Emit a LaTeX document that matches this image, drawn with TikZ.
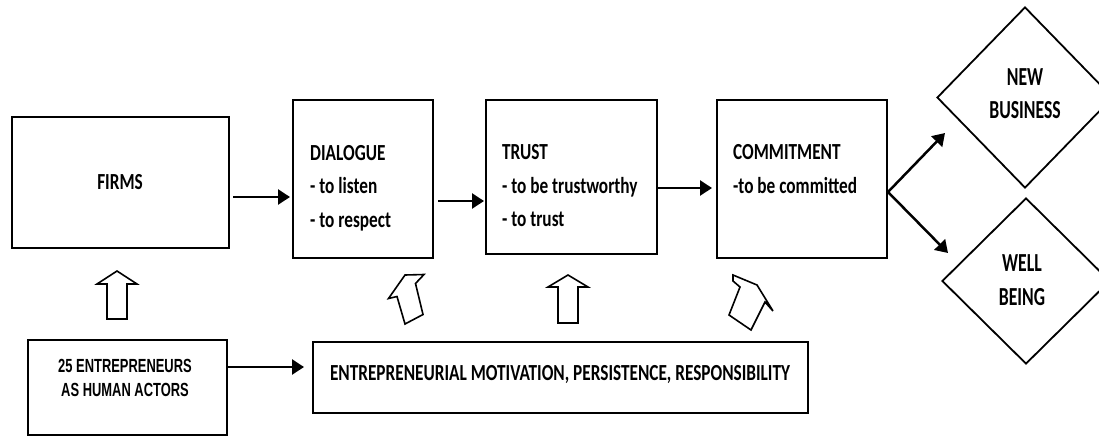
\documentclass[tikz,border=0pt]{standalone}
\usepackage{fontspec}
\usetikzlibrary{arrows.meta,shapes.geometric}
\newfontfamily\boxfont[FakeStretch=0.75]{Carlito}
\newfontfamily\goalfont[FakeStretch=0.68]{Carlito}
\newfontfamily\narrowfont[FakeStretch=0.68]{Liberation Sans}
\begin{document}
\begin{tikzpicture}[x=1pt,y=-1pt,
  box/.style={draw, line width=2pt, rectangle, inner sep=0pt},
  outcome/.style={draw, line width=1.8pt, diamond, inner sep=0pt},
  txt/.style={inner sep=0pt, font=\boxfont\bfseries\fontsize{23}{33.5}\selectfont},
  goaltxt/.style={inner sep=0pt, align=center, font=\goalfont\bfseries\fontsize{26}{33.5}\selectfont},
  actortxt/.style={inner sep=0pt, align=center, font=\narrowfont\bfseries\fontsize{19}{24}\selectfont},
  flow/.style={line width=2.5pt, -{Triangle[length=12pt,width=15pt]}},
  push/.style={draw, line width=1.6pt, line join=miter, fill=white},
]
\useasboundingbox (0,0) rectangle (1099,437);
\clip (0,0) rectangle (1099,437);

% process boxes
\node[box, minimum width=217pt, minimum height=131pt] (firms)    at (120.5,182.5) {};
\node[box, minimum width=140pt, minimum height=158pt] (dialogue) at (363,179) {};
\node[box, minimum width=171pt, minimum height=154pt] (trust)    at (571.5,177) {};
\node[box, minimum width=170pt, minimum height=158pt] (commit)   at (802,179) {};
\node[box, minimum width=199pt, minimum height=95pt]  (actors)   at (127.5,387.5) {};
\node[box, minimum width=495pt, minimum height=71pt]  (motiv)    at (560.5,377.5) {};

% outcomes
\node[outcome, minimum width=176pt, minimum height=181pt] (newbiz) at (1025,97.5) {};
\node[outcome, minimum width=168pt, minimum height=166pt] (wellb)  at (1026,281) {};

% texts
\node[txt, anchor=base] (firmst) at (120,189.5) {FIRMS};
\node[txt, anchor=west, align=left] (dialoguet) at (310,188) {DIALOGUE\\- to listen\\- to respect};
\node[txt, anchor=west, align=left] (trustt) at (502,185.7) {TRUST\\- to be trustworthy\\- to trust};
\node[txt, anchor=west, align=left] (committ) at (733,169) {COMMITMENT\\-to be committed};
\node[actortxt] (actorst) at (125,378) {25 ENTREPRENEURS\\AS HUMAN ACTORS};
\node[txt, anchor=base] (motivt) at (560,380) {ENTREPRENEURIAL MOTIVATION, PERSISTENCE, RESPONSIBILITY};
\node[goaltxt] (newbizt) at (1025,93.5) {NEW\\BUSINESS};
\node[goaltxt] (wellbt) at (1022,280) {WELL\\BEING};

% main flow
\draw[flow, shorten <=3pt, shorten >=2pt] (firms.east |- 0,197) -- (dialogue.west |- 0,197);
\draw[flow, shorten <=4pt, shorten >=1pt] (dialogue.east |- 0,201) -- (trust.west |- 0,201);
\draw[flow, shorten >=4pt] (trust.east |- 0,188) -- (commit.west |- 0,188);
\draw[flow, shorten >=8pt] (actors.east |- 0,367) -- (motiv.west |- 0,367);

% branching to the outcomes
\coordinate (split) at (888,192);
\coordinate (tonew) at (945,133);
\coordinate (towell) at (948,253);
\draw[flow] (split) -- (tonew);
\draw[flow] (split) -- (towell);

% hollow block arrows
\draw[push] (107,319) -- (107,284) -- (97,284) -- (117,271) -- (137,284) -- (127,284) -- (127,319) -- cycle;
\draw[push] (558,323) -- (558,287) -- (548,287) -- (568,275) -- (588,287) -- (578,287) -- (578,323) -- cycle;
\draw[push] (405,324) -- (397,296.5) -- (388.5,298.5) -- (405,275) -- (424,274.5) -- (415.5,283.5) -- (423,314.5) -- cycle;
\draw[push] (733,275) -- (757,285) -- (773,311) -- (765,302) -- (751,330) -- (729,315) -- (740,287) -- (733,281) -- cycle;
\end{tikzpicture}
\end{document}
